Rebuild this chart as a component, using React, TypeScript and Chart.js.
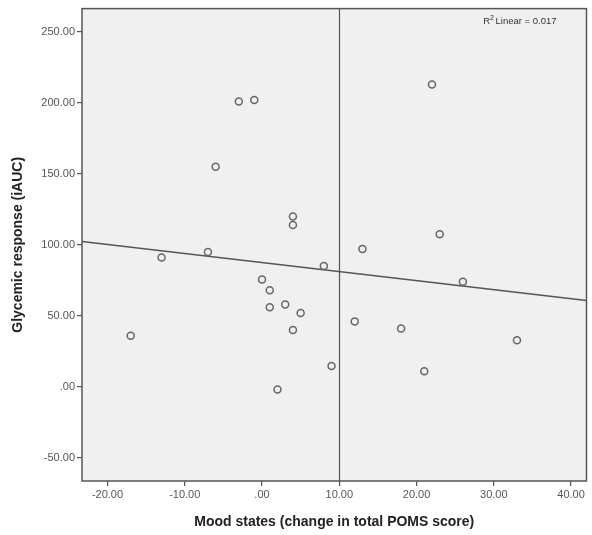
import React, { useEffect, useRef } from "react";
import { Chart, registerables } from "chart.js";

Chart.register(...registerables);

// Data: mood state change (x) vs glycemic response iAUC (y)
const moodChange = [-3, -1, -6, 4, 4, -13, -7, 8, 0, 1, 1, 3, 5, 4, -17, 9, 2, 22, 23, 13, 26, 12, 18, 33, 21];
const glycemicResponse = [201, 202, 155, 120, 114, 91, 95, 85, 75.5, 68, 56, 58, 52, 40, 36, 14.7, -2, 213, 107.5, 97, 74, 46, 41, 32.7, 11];

const xTicks = [-20, -10, 0, 10, 20, 30, 40];
const yTicks = [-50, 0, 50, 100, 150, 200, 250];
const xRange = [-23.3, 42.0];
const yRange = [-66.4, 266.4];
const referenceX = 10;
const fitLabel = "Linear = 0.017";
const xTitle = "Mood states (change in total POMS score)";
const yTitle = "Glycemic response (iAUC)";

function fmt(v: number): string {
  const s = v.toFixed(2);
  if (s.startsWith("0.")) return s.slice(1);
  if (s.startsWith("-0.")) return "-" + s.slice(2);
  return s;
}

function linearFit(xs: number[], ys: number[]) {
  const n = xs.length;
  const mx = xs.reduce((a, b) => a + b, 0) / n;
  const my = ys.reduce((a, b) => a + b, 0) / n;
  let sxy = 0, sxx = 0;
  for (let i = 0; i < n; i++) {
    sxy += (xs[i] - mx) * (ys[i] - my);
    sxx += (xs[i] - mx) ** 2;
  }
  const slope = sxy / sxx;
  return { slope, intercept: my - slope * mx };
}

export default function App() {
  const ref = useRef<HTMLCanvasElement | null>(null);
  useEffect(() => {
    document.body.style.margin = "0";
    const canvas = ref.current!;
    const fit = linearFit(moodChange, glycemicResponse);
    const fitLine = xRange.map((x) => ({ x, y: fit.intercept + fit.slope * x }));
    const points = moodChange.map((x, i) => ({ x, y: glycemicResponse[i] }));

    const framePlugin = {
      id: "frame",
      beforeDatasetsDraw(chart: any) {
        const { ctx, chartArea: a, scales } = chart;
        ctx.save();
        ctx.fillStyle = "#f0f0f0";
        ctx.fillRect(a.left, a.top, a.right - a.left, a.bottom - a.top);
        const px = Math.round(scales.x.getPixelForValue(referenceX)) + 0.5;
        ctx.strokeStyle = "#555555";
        ctx.lineWidth = 1.2;
        ctx.beginPath();
        ctx.moveTo(px, a.top);
        ctx.lineTo(px, a.bottom);
        ctx.stroke();
        ctx.restore();
      },
      afterDraw(chart: any) {
        const { ctx, chartArea: a } = chart;
        ctx.save();
        ctx.strokeStyle = "#555555";
        ctx.lineWidth = 1.5;
        ctx.strokeRect(a.left, a.top, a.right - a.left, a.bottom - a.top);
        // R² label
        ctx.fillStyle = "#333333";
        ctx.textBaseline = "alphabetic";
        ctx.font = "9.5px 'Liberation Sans', Arial, sans-serif";
        const right = a.right - 30;
        const w = ctx.measureText(fitLabel).width;
        ctx.textAlign = "left";
        const baseY = 24;
        const startX = right - w;
        ctx.fillText(fitLabel, startX, baseY);
        ctx.font = "7px 'Liberation Sans', Arial, sans-serif";
        const w2 = ctx.measureText("2").width;
        ctx.fillText("2", startX - w2 - 1.5, baseY - 4);
        ctx.font = "9.5px 'Liberation Sans', Arial, sans-serif";
        const wr = ctx.measureText("R").width;
        ctx.fillText("R", startX - w2 - 1.5 - wr, baseY);
        ctx.restore();
      },
    };

    const chart = new Chart(canvas, {
      type: "scatter",
      data: {
        datasets: [
          {
            type: "line",
            data: fitLine,
            borderColor: "#555555",
            borderWidth: 1.5,
            pointRadius: 0,
            fill: false,
            order: 2,
          } as any,
          {
            data: points,
            pointRadius: 3.5,
            pointBorderWidth: 1.5,
            pointBorderColor: "#666666",
            pointBackgroundColor: "rgba(0,0,0,0)",
            order: 1,
          },
        ],
      },
      options: {
        animation: false,
        responsive: false,
        layout: { padding: { top: 5, right: 3, left: 0, bottom: 0 } },
        plugins: { legend: { display: false }, tooltip: { enabled: false } },
        scales: {
          x: {
            type: "linear",
            min: xRange[0],
            max: xRange[1],
            afterBuildTicks: (s: any) => {
              s.ticks = xTicks.map((v) => ({ value: v }));
            },
            afterFit: (s: any) => {
              s.height = 54;
            },
            grid: { display: true, drawOnChartArea: false, drawTicks: true, tickLength: 5, color: "#555555", lineWidth: 1.2 },
            border: { display: false },
            ticks: {
              callback: (v: any) => fmt(Number(v)),
              color: "#555555",
              font: { family: "'Liberation Sans', Arial, sans-serif", size: 11 },
              padding: 2,
              maxRotation: 0,
              autoSkip: false,
            },
            title: {
              display: true,
              text: xTitle,
              color: "#222222",
              font: { family: "'Liberation Sans', Arial, sans-serif", size: 14, weight: "bold" },
              padding: { top: 0, bottom: 4 },
            },
          },
          y: {
            type: "linear",
            min: yRange[0],
            max: yRange[1],
            afterBuildTicks: (s: any) => {
              s.ticks = yTicks.map((v) => ({ value: v }));
            },
            afterFit: (s: any) => {
              s.width = 82;
            },
            grid: { display: true, drawOnChartArea: false, drawTicks: true, tickLength: 5, color: "#555555", lineWidth: 1.2 },
            border: { display: false },
            ticks: {
              callback: (v: any) => fmt(Number(v)),
              color: "#555555",
              font: { family: "'Liberation Sans', Arial, sans-serif", size: 11 },
              padding: 2,
              autoSkip: false,
            },
            title: {
              display: true,
              text: yTitle,
              color: "#222222",
              font: { family: "'Liberation Sans', Arial, sans-serif", size: 14, weight: "bold" },
              padding: { top: 10, bottom: 0 },
            },
          },
        },
      },
      plugins: [framePlugin],
    });
    return () => chart.destroy();
  }, []);
  return <canvas ref={ref} width={592} height={535} style={{ display: "block" }} />;
}
